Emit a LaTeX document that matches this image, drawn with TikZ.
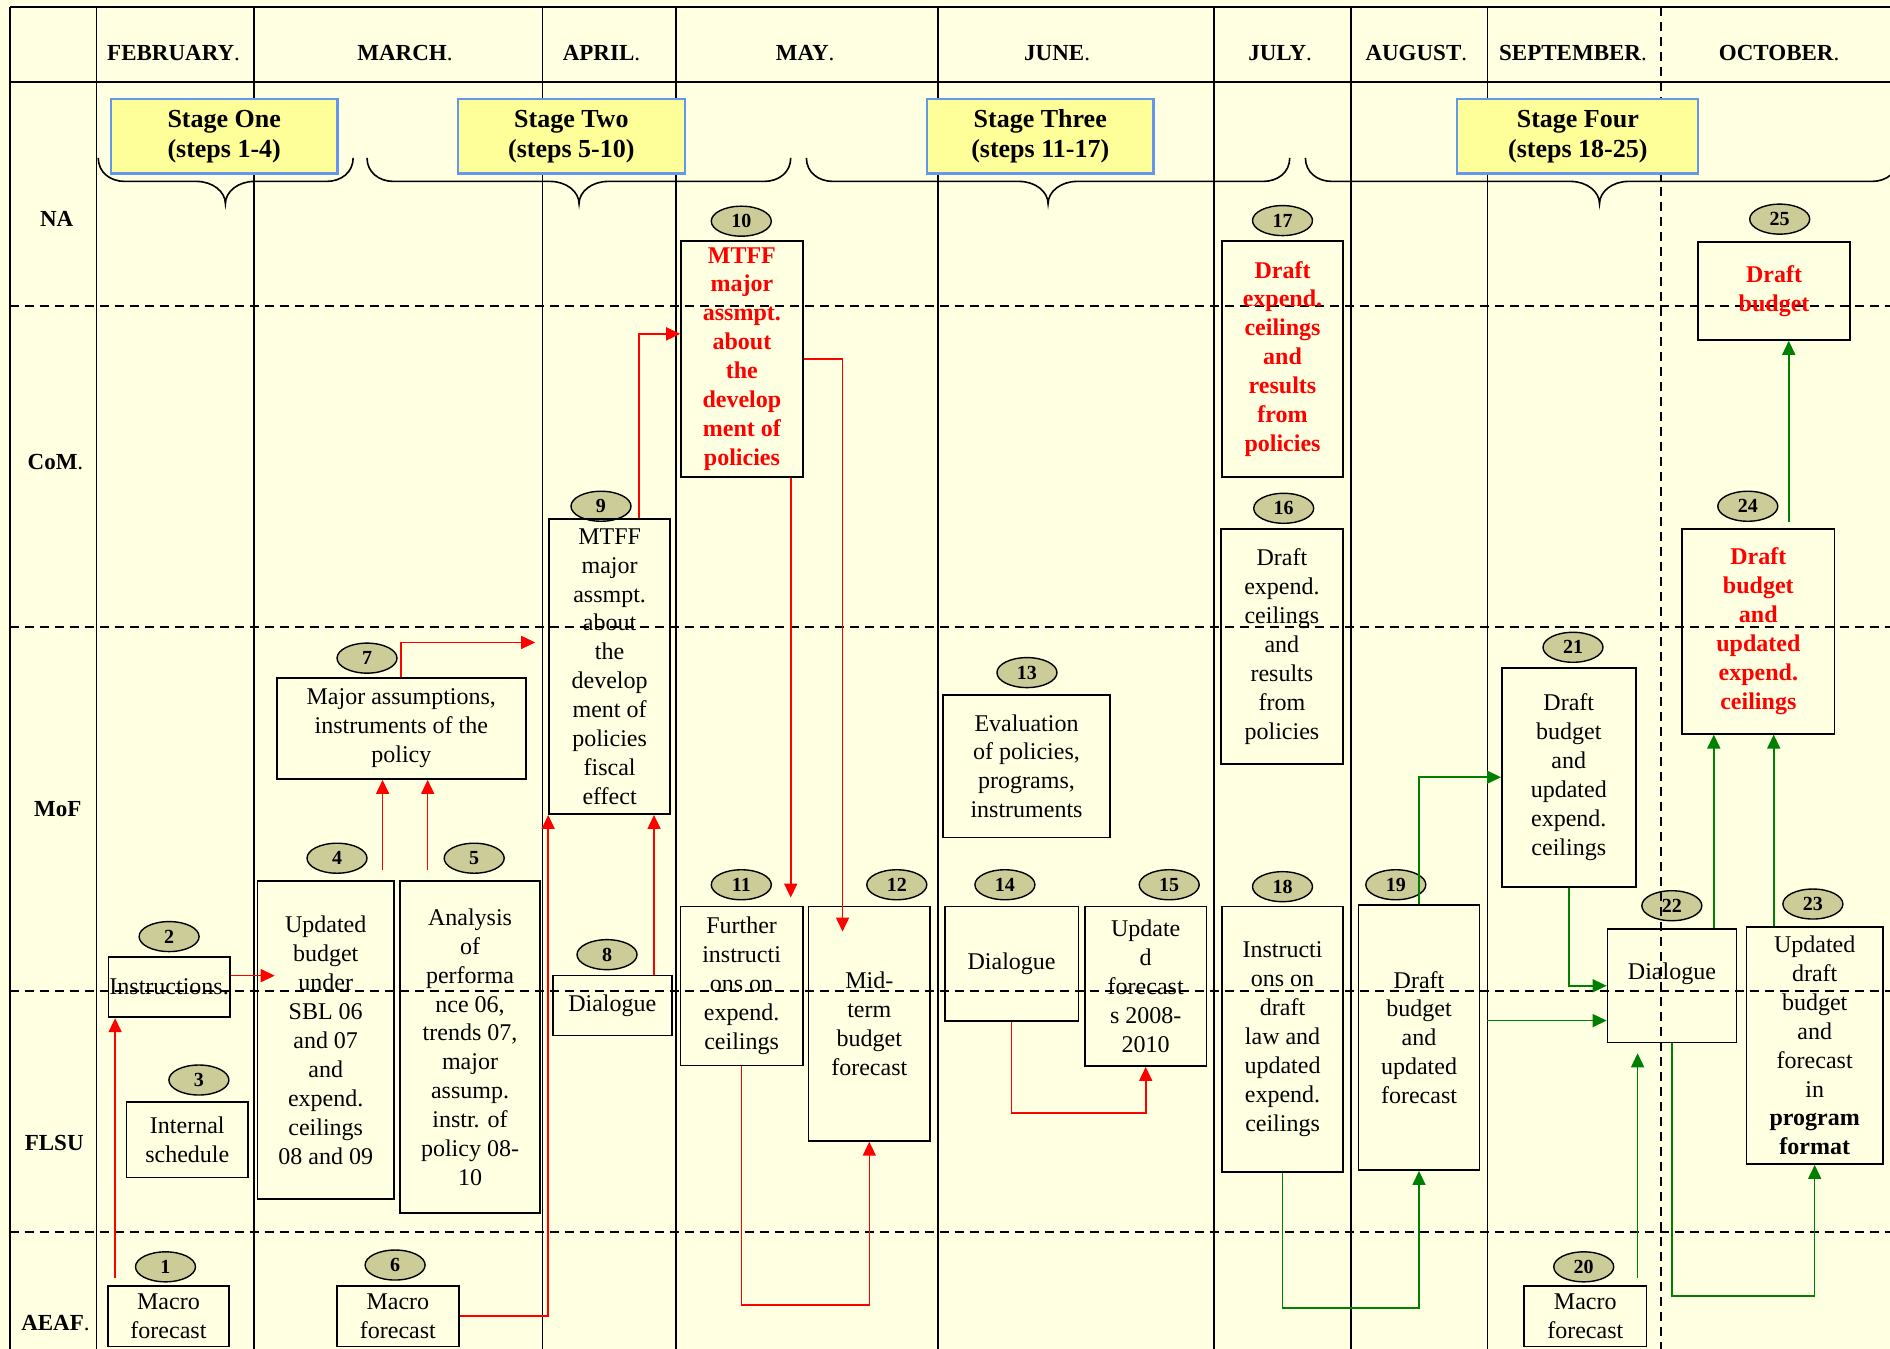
\documentclass[tikz,border=0pt]{standalone}
\usepackage{fontspec}
\setmainfont{Liberation Serif}
\usetikzlibrary{shapes.geometric,arrows.meta}
\definecolor{bgcol}{RGB}{255,255,225}
\definecolor{badgecol}{RGB}{204,204,153}
\definecolor{stagefill}{RGB}{255,255,153}
\definecolor{stageline}{RGB}{100,150,240}
\definecolor{arrred}{RGB}{255,0,0}
\definecolor{arrgreen}{RGB}{0,128,0}
\tikzset{
  gridline/.style={line width=1.8pt},
  dgrid/.style={line width=1.6pt, dash pattern=on 9pt off 6pt},
  area/.style args={#1/#2/#3/#4}{minimum width={(#3-#1)*1.20536pt}, minimum height={(#4-#2)*1.20536pt}, at={({(#1+#3)/2},{(#2+#4)/2})}},
  box/.style={draw, line width=1.7pt, inner sep=0pt, align=center, font=\fontsize{24}{28.9}\selectfont},
  redbox/.style={box, text=arrred, font=\bfseries\fontsize{24}{28.9}\selectfont},
  badge/.style={ellipse, draw, line width=1.4pt, fill=badgecol, minimum width=60pt, minimum height=30pt, inner sep=0pt, font=\bfseries\fontsize{20}{20}\selectfont},
  stage/.style={draw=stageline, fill=stagefill, line width=2.2pt, inner sep=0pt, align=center, font=\bfseries\fontsize{26}{30}\selectfont},
  month/.style={font=\fontsize{23}{26}\selectfont},
  brace/.style={line width=1.6pt},
  rarr/.style={draw=arrred, line width=1.6pt, -{Triangle[length=14pt,width=13pt]}},
  garr/.style={draw=arrgreen, line width=1.6pt, -{Triangle[length=14pt,width=13pt]}}
}
\begin{document}
\begin{tikzpicture}[x=1.20536pt, y=-1.20536pt]
\useasboundingbox (0,0) rectangle (1568,1119);
\fill[bgcol] (0,0) rectangle (1568,1119);

% badges (under the grid)
\node[badge] (c1) at (137.3,1051) {1};
\node[badge] (c2) at (140.3,777) {2};
\node[badge] (c3) at (165,896) {3};
\node[badge] (c4) at (279.6,712) {4};
\node[badge] (c5) at (393.4,712) {5};
\node[badge] (c6) at (327.8,1049.5) {6};
\node[badge] (c7) at (304.5,546) {7};
\node[badge] (c8) at (503.6,792) {8};
\node[badge] (c9) at (498.6,420) {9};
\node[badge] (c10) at (615,183.5) {10};
\node[badge] (c11) at (615,734) {11};
\node[badge] (c12) at (744,734) {12};
\node[badge] (c13) at (852,558) {13};
\node[badge] (c14) at (833.7,734) {14};
\node[badge] (c15) at (970,734) {15};
\node[badge] (c16) at (1065,421.7) {16};
\node[badge] (c17) at (1064,183) {17};
\node[badge] (c18) at (1064,735.6) {18};
\node[badge] (c19) at (1158,734) {19};
\node[badge] (c20) at (1313.9,1051) {20};
\node[badge] (c21) at (1305,537) {21};
\node[badge] (c22) at (1387,751.4) {22};
\node[badge] (c23) at (1504,750) {23};
\node[badge] (c24) at (1450,420) {24};
\node[badge] (c25) at (1476.5,181.8) {25};

% grid
\draw[gridline] (8,6) -- (1570,6);
\draw[gridline] (8,6) -- (8,1121);
\draw[gridline] (8,68) -- (1570,68);
\foreach \cx in {80,211,450,561,778,1007,1121,1234}
  \draw[gridline] (\cx,6) -- (\cx,1121);
\draw[dgrid] (1378,6) -- (1378,1121);
\foreach \ry in {254,520,822,1022}
  \draw[dgrid] (8,\ry) -- (1570,\ry);

% header labels
\node[month] (mfeb) at (144,44) {\textbf{FEBRUARY}.};
\node[month] (mmar) at (336,44) {\textbf{MARCH}.};
\node[month] (mapr) at (499,44) {\textbf{APRIL}.};
\node[month] (mmay) at (668,44) {\textbf{MAY}.};
\node[month] (mjun) at (877,44) {\textbf{JUNE}.};
\node[month] (mjul) at (1062,44) {\textbf{JULY}.};
\node[month] (maug) at (1175,44) {\textbf{AUGUST}.};
\node[month] (msep) at (1305,44) {\textbf{SEPTEMBER}.};
\node[month] (moct) at (1476,44) {\textbf{OCTOBER}.};

\node[month] (rna) at (47,182) {\textbf{NA}};
\node[month] (rcom) at (46,383) {\textbf{CoM}.};
\node[month] (rmof) at (48,671) {\textbf{MoF}};
\node[month] (rflsu) at (45,948) {\textbf{FLSU}};
\node[month] (raeaf) at (46,1098) {\textbf{AEAF}.};

% stage boxes
\node[stage, area=92/82/280/144] (s1) {Stage One\\(steps 1-4)};
\node[stage, area=380/82/568/144] (s2) {Stage Two\\(steps 5-10)};
\node[stage, area=769/82/957/144] (s3) {Stage Three\\(steps 11-17)};
\node[stage, area=1209/82/1409/144] (s4) {Stage Four\\(steps 18-25)};

% braces
\foreach \xa/\xt/\xb in {81.5/187/293, 304.5/480.4/656, 669/869.5/1070, 1083/1327/1575}{
  \draw[brace] (\xa,131) .. controls (\xa,143) and (\xa+10,150.5) .. (\xa+22,150.5)
    -- (\xt-24,150.5) .. controls (\xt-10.8,150.5) and (\xt,158.8) .. (\xt,169)
    .. controls (\xt,158.8) and (\xt+10.8,150.5) .. (\xt+24,150.5)
    -- (\xb-22,150.5) .. controls (\xb-10,150.5) and (\xb,143) .. (\xb,131);
}

% boxes
\node[box, area=89.5/1067/190/1117] (b1) {Macro\\forecast};
\node[box, area=90/793.7/190.6/844] (b2) {Instructions.};
\node[box, area=105/914/205.7/977] (b3) {Internal\\schedule};
\node[box, area=213.7/731/326.7/995] (b4) {Updated\\budget\\under\\SBL 06\\and 07\\and\\expend.\\ceilings\\08 and 09};
\node[box, area=331.9/731/448/1006.5] (b5) {Analysis\\of\\performa\\nce 06,\\trends 07,\\major\\assump.\\instr. of\\policy 08-\\10};
\node[box, area=279.6/1067/380.6/1117] (b6) {Macro\\forecast};
\node[box, area=229.6/562.5/436.3/646.3] (b7) {Major assumptions,\\instruments of the\\policy};
\node[box, area=458.5/809.4/557.4/859] (b8) {Dialogue};
\node[box, area=455.5/430.6/556/675.4] (b9) {MTFF\\major\\assmpt.\\about\\the\\develop\\ment of\\policies\\fiscal\\effect};
\node[redbox, area=565/200/666/395.5] (b10) {MTFF\\major\\assmpt.\\about\\the\\develop\\ment of\\policies};
\node[box, area=564.5/752/666/884] (b11) {Further\\instructi\\ons on\\expend.\\ceilings};
\node[box, area=670.8/752/771.6/946.5] (b12) {Mid-\\term\\budget\\forecast};
\node[box, area=782.6/576.6/920.7/694.7] (b13) {Evaluation\\of policies,\\programs,\\instruments};
\node[box, area=783.7/752/894.8/846.8] (b14) {Dialogue};
\node[box, area=900/752/1001/884.4] (b15) {Update\\d\\forecast\\s 2008-\\2010};
\node[box, area=1013/439/1114/633.8] (b16) {Draft\\expend.\\ceilings\\and\\results\\from\\policies};
\node[redbox, area=1014/200/1114/395.5] (b17) {Draft\\expend.\\ceilings\\and\\results\\from\\policies};
\node[box, area=1013.7/752/1114.4/972.3] (b18) {Instructi\\ons on\\draft\\law and\\updated\\expend.\\ceilings};
\node[box, area=1127/750.8/1227.5/970.7] (b19) {Draft\\budget\\and\\updated\\forecast};
\node[box, area=1264.4/1067/1366/1117] (b20) {Macro\\forecast};
\node[box, area=1246/554/1357/735.6] (b21) {Draft\\budget\\and\\updated\\expend.\\ceilings};
\node[box, area=1333.6/770.8/1440.6/864.8] (b22) {Dialogue\\\mbox{}};
\node[box, area=1449/769/1562/965.7] (b23) {Updated\\draft\\budget\\and\\forecast\\in\\\textbf{program}\\\textbf{format}};
\node[redbox, area=1395.5/439/1522/608.7] (b24) {Draft\\budget\\and\\updated\\expend.\\ceilings};
\node[redbox, area=1408.8/200.5/1534.8/282] (b25) {Draft\\budget};

% red connectors
\draw[rarr, shorten <=7pt] (b1.north -| 95.5,0) -- (b2.south -| 95.5,0);
\draw[rarr, shorten >=-18pt] (b2.east |- 0,809.4) -- (b4.west |- 0,809.4);
\draw[rarr, shorten <=10pt] (b4.north -| 317.4,0) -- (b7.south -| 317.4,0);
\draw[rarr, shorten <=10pt] (b5.north -| 354.8,0) -- (b7.south -| 354.8,0);
\draw[rarr, shorten >=13pt] (b7.north -| 332.5,0) |- (b9.west |- 0,533);
\draw[rarr] (b6.east |- 0,1091.8) -| (b9.south west);
\draw[rarr] (b8.north -| 542.6,0) -- (b9.south -| 542.6,0);
\draw[rarr] (b9.north -| 530,0) |- (b10.west |- 0,277);
\draw[rarr, shorten >=8pt] (b10.south -| 656,0) -- (b11.north -| 656,0);
\draw[rarr, shorten >=-26pt] (b10.east |- 0,298) -| (b12.north -| 699,0);
\draw[rarr] (b11.south) -- (b11.south |- 0,1082.6) -| (b12.south);
\draw[rarr] (b14.south) -- (b14.south |- 0,923.6) -| (b15.south);

% green connectors
\draw[garr] (b18.south) -- (b18.south |- 0,1085) -| (b19.south);
\draw[garr] (b19.north) |- (b21.west);
\draw[garr] (b21.south) |- (b22.west);
\draw[garr, shorten <=7pt] (b19.east |- 0,846.7) -- (b22.west |- 0,846.7);
\draw[garr, shorten <=7pt, shorten >=10pt] (b20.north -| 1358.6,0) -- (b22.south -| 1358.6,0);
\draw[garr] (b22.south) -- (b22.south |- 0,1075) -| (b23.south);
\draw[garr] (b22.north -| 1421.8,0) -- (b24.south -| 1421.8,0);
\draw[garr] (b23.north -| 1471.5,0) -- (b24.south -| 1471.5,0);
\draw[garr, shorten <=6pt] (b24.north -| 1484,0) -- (b25.south -| 1484,0);
\end{tikzpicture}
\end{document}
